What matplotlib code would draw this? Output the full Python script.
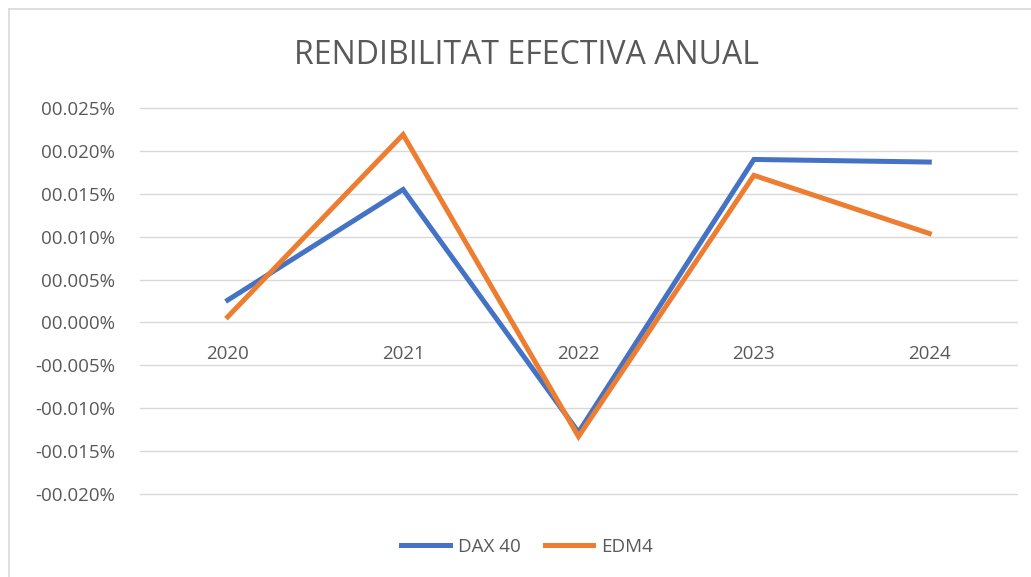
import matplotlib
matplotlib.use("Agg")
import matplotlib.pyplot as plt
from matplotlib.lines import Line2D
from matplotlib.ticker import FuncFormatter, MultipleLocator

# data (percent units)
years = ["2020", "2021", "2022", "2023", "2024"]
dax40 = [0.0026, 0.0155, -0.0128, 0.0190, 0.0187]
edm4 = [0.00065, 0.0219, -0.0133, 0.01715, 0.01037]

W, H = 1031, 577
plt.rcParams["font.family"] = ["Open Sans", "DejaVu Sans"]
text_col = "#595959"

fig = plt.figure(figsize=(W / 100, H / 100), dpi=100)
fig.patch.set_facecolor("white")

# chart border (only top and left visible in the crop)
fig.add_artist(Line2D([9 / W, 9 / W], [0, 1 - 9 / H], color="#D9D9D9", lw=1.2))
fig.add_artist(Line2D([9 / W, 1], [1 - 9 / H, 1 - 9 / H], color="#D9D9D9", lw=1.2))

left, right, top, bottom = 140, 1017, 108, 494
ax = fig.add_axes([left / W, 1 - bottom / H, (right - left) / W, (bottom - top) / H])

x = range(len(years))
ax.plot(x, dax40, color="#4472C4", lw=3.6, label="DAX 40", solid_joinstyle="miter")
ax.plot(x, edm4, color="#ED7D31", lw=3.6, label="EDM4", solid_joinstyle="miter")

ax.set_xlim(-0.5, len(years) - 0.5)
ax.set_ylim(-0.020, 0.025)
ax.yaxis.set_major_locator(MultipleLocator(0.005))


def pct(v, pos):
    sign = "-" if v < -1e-9 else ""
    return f"{sign}{abs(v):06.3f}%"


ax.yaxis.set_major_formatter(FuncFormatter(pct))
ax.grid(axis="y", color="#D9D9D9", lw=1.0)
for gl in ax.get_ygridlines():
    gl.set_clip_on(False)
ax.set_axisbelow(True)
for s in ax.spines.values():
    s.set_visible(False)
ax.tick_params(axis="y", length=0, pad=18, labelsize=13.5, labelcolor=text_col)
ax.set_xticks([])

# category labels sit just under the zero line
for i, yr in enumerate(years):
    ax.annotate(yr, (i, 0), xytext=(0, -32), textcoords="offset pixels",
                ha="center", va="center", fontsize=13.5, color=text_col)

fig.text(527 / W, 1 - 55 / H, "RENDIBILITAT EFECTIVA ANUAL", ha="center", va="center",
         fontsize=23, color=text_col)

fig.legend(loc="center", bbox_to_anchor=(527 / W, 1 - 547 / H), ncol=2, frameon=False,
           fontsize=13.5, labelcolor=text_col, handlelength=2.6, handletextpad=0.4,
           columnspacing=1.3)

fig.savefig("out.png", dpi=100)
